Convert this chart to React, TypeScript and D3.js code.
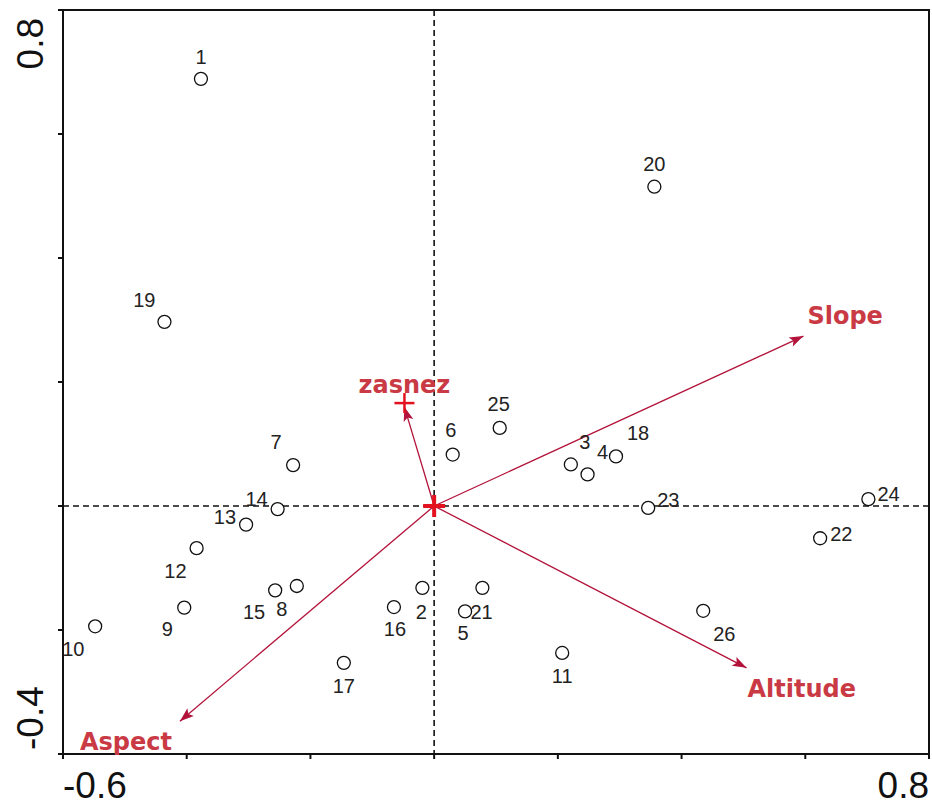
import React from "react";
import * as d3 from "d3";

// ---- data ----
const siteIds = ["1","2","3","4","5","6","7","8","9","10","11","12","13","14","15","16","17","18","19","20","21","22","23","24","25","26"];
const siteX = [-0.377,-0.019,0.221,0.248,0.050,0.030,-0.228,-0.222,-0.404,-0.548,0.207,-0.384,-0.304,-0.253,-0.257,-0.065,-0.146,0.294,-0.436,0.356,0.078,0.624,0.346,0.702,0.106,0.435];
const siteY = [0.689,-0.132,0.067,0.051,-0.170,0.083,0.066,-0.129,-0.164,-0.194,-0.237,-0.068,-0.030,-0.005,-0.136,-0.163,-0.253,0.080,0.297,0.515,-0.132,-0.052,-0.003,0.011,0.126,-0.169];

const envNames = ["Slope", "Altitude", "Aspect"];
const envX = [0.597, 0.505, -0.411];
const envY = [0.274, -0.261, -0.347];

const supName = "zasnez";
const supX = -0.048;
const supY = 0.166;

const xDomain = [-0.6, 0.8];
const yDomain = [-0.4, 0.8];
const xTicks = [-0.6, -0.4, -0.2, 0, 0.2, 0.4, 0.6, 0.8];
const yTicks = [-0.4, -0.2, 0, 0.2, 0.4, 0.6, 0.8];
const xTickLabels = ["-0.6", "0.8"];
const yTickLabels = ["-0.4", "0.8"];

// ---- label layout (pixel offsets relative to point) ----
const labelLayout: Record<string, [number, number, string]> = {
  "1": [0, -15, "middle"],
  "2": [-1, 31, "middle"],
  "3": [14, -15, "middle"],
  "4": [15, -15, "middle"],
  "5": [-2, 29, "middle"],
  "6": [-2, -18, "middle"],
  "7": [-17, -16, "middle"],
  "8": [-15, 30, "middle"],
  "9": [-17, 28, "middle"],
  "10": [-33, 30, "start"],
  "11": [0, 30, "middle"],
  "12": [-10, 30, "end"],
  "13": [-10, -1, "end"],
  "14": [-10, -3, "end"],
  "15": [-10, 29, "end"],
  "16": [1, 29, "middle"],
  "17": [0, 30, "middle"],
  "18": [11, -16, "start"],
  "19": [-9, -15, "end"],
  "20": [0, -16, "middle"],
  "21": [-12, 31, "start"],
  "22": [10, 3, "start"],
  "23": [9, -1, "start"],
  "24": [9, 2, "start"],
  "25": [-1, -17, "middle"],
  "26": [10, 30, "start"],
};
const envLabelLayout: Record<string, [number, number, string]> = {
  Slope: [4, -12, "start"],
  Altitude: [1, 29, "start"],
  Aspect: [-100, 29, "start"],
};

const W = 932, H = 805;
const L = 63, R = 929, T = 10, B = 754;
const ARROW = "#b3123a";
const TEXTRED = "#c93a44";
const FONT = "Arial, 'Liberation Sans', sans-serif";
const BOLDFONT = "'DejaVu Sans', Verdana, sans-serif";

export default function App() {
  const x = d3.scaleLinear().domain(xDomain).range([L, R]);
  const y = d3.scaleLinear().domain(yDomain).range([B, T]);
  const x0 = x(0), y0 = y(0);

  const arrowHead = (tx: number, ty: number, key: string) => {
    const ang = Math.atan2(ty - y0, tx - x0);
    const len = 14, half = 5;
    const bx = tx - len * Math.cos(ang), by = ty - len * Math.sin(ang);
    const px = -Math.sin(ang) * half, py = Math.cos(ang) * half;
    const path = d3.path();
    path.moveTo(tx, ty);
    path.lineTo(bx + px, by + py);
    path.lineTo(bx + 3 * Math.cos(ang), by + 3 * Math.sin(ang));
    path.lineTo(bx - px, by - py);
    path.closePath();
    return <path key={key} d={path.toString()} fill={ARROW} stroke="none" />;
  };

  const sx = x(supX), sy = y(supY);

  return (
    <div style={{ position: "absolute", left: 0, top: 0 }}>
      <svg width={W} height={H} style={{ display: "block", background: "#fff" }} fontFamily={FONT}>
        {/* dashed zero lines */}
        <line x1={L} x2={R} y1={y0} y2={y0} stroke="#111" strokeWidth={1.6} strokeDasharray="6,4" />
        <line x1={x0} x2={x0} y1={T} y2={B} stroke="#111" strokeWidth={1.6} strokeDasharray="6,4" />

        {/* frame */}
        <rect x={L} y={T} width={R - L} height={B - T} fill="none" stroke="#111" strokeWidth={2} />
        {xTicks.map((t) => (
          <line key={"xt" + t} x1={x(t)} x2={x(t)} y1={B} y2={B + 5} stroke="#111" strokeWidth={2} />
        ))}
        {yTicks.map((t) => (
          <line key={"yt" + t} x1={L - 5} x2={L} y1={y(t)} y2={y(t)} stroke="#111" strokeWidth={2} />
        ))}

        {/* tick labels */}
        <text x={x(xDomain[0])} y={798} fontSize={37} fill="#111" textAnchor="start">{xTickLabels[0]}</text>
        <text x={x(xDomain[1])} y={798} fontSize={37} fill="#111" textAnchor="end">{xTickLabels[1]}</text>
        <text transform={`translate(43,${y(yDomain[0]) - 4}) rotate(-90)`} fontSize={37} fill="#111" textAnchor="start">{yTickLabels[0]}</text>
        <text transform={`translate(43,${y(yDomain[1]) + 8}) rotate(-90)`} fontSize={37} fill="#111" textAnchor="end">{yTickLabels[1]}</text>

        {/* env arrows */}
        {envNames.map((n, i) => {
          const tx = x(envX[i]), ty = y(envY[i]);
          const [dx, dy, anchor] = envLabelLayout[n];
          return (
            <g key={n}>
              <line x1={x0} y1={y0} x2={tx} y2={ty} stroke={ARROW} strokeWidth={1.3} />
              {arrowHead(tx, ty, n + "h")}
              <text x={tx + dx} y={ty + dy} fontSize={24} fontWeight="bold" fontFamily={BOLDFONT} fill={TEXTRED} textAnchor={anchor}>{n}</text>
            </g>
          );
        })}

        {/* supplementary variable */}
        <line x1={x0} y1={y0} x2={sx} y2={sy + 4} stroke={ARROW} strokeWidth={1.3} />
        {arrowHead(sx, sy + 4, "suph")}
        <line x1={sx - 10} x2={sx + 10} y1={sy} y2={sy} stroke="#e3121f" strokeWidth={2.5} />
        <line x1={sx} x2={sx} y1={sy - 10} y2={sy + 10} stroke="#e3121f" strokeWidth={2.5} />
        <text x={sx} y={sy - 10} fontSize={24} fontWeight="bold" fontFamily={BOLDFONT} fill={TEXTRED} textAnchor="middle">{supName}</text>

        {/* origin marker */}
        <line x1={x0 - 11} x2={x0 + 11} y1={y0} y2={y0} stroke="#e3121f" strokeWidth={4} />
        <line x1={x0} x2={x0} y1={y0 - 11} y2={y0 + 11} stroke="#e3121f" strokeWidth={4} />

        {/* sites */}
        {siteIds.map((id, i) => {
          const cx = x(siteX[i]), cy = y(siteY[i]);
          const [dx, dy, anchor] = labelLayout[id];
          return (
            <g key={id}>
              <circle cx={cx} cy={cy} r={6.5} fill="#fff" stroke="#111" strokeWidth={1.3} />
              <text x={cx + dx} y={cy + dy} fontSize={20} fill="#222" textAnchor={anchor}>{id}</text>
            </g>
          );
        })}
      </svg>
    </div>
  );
}
